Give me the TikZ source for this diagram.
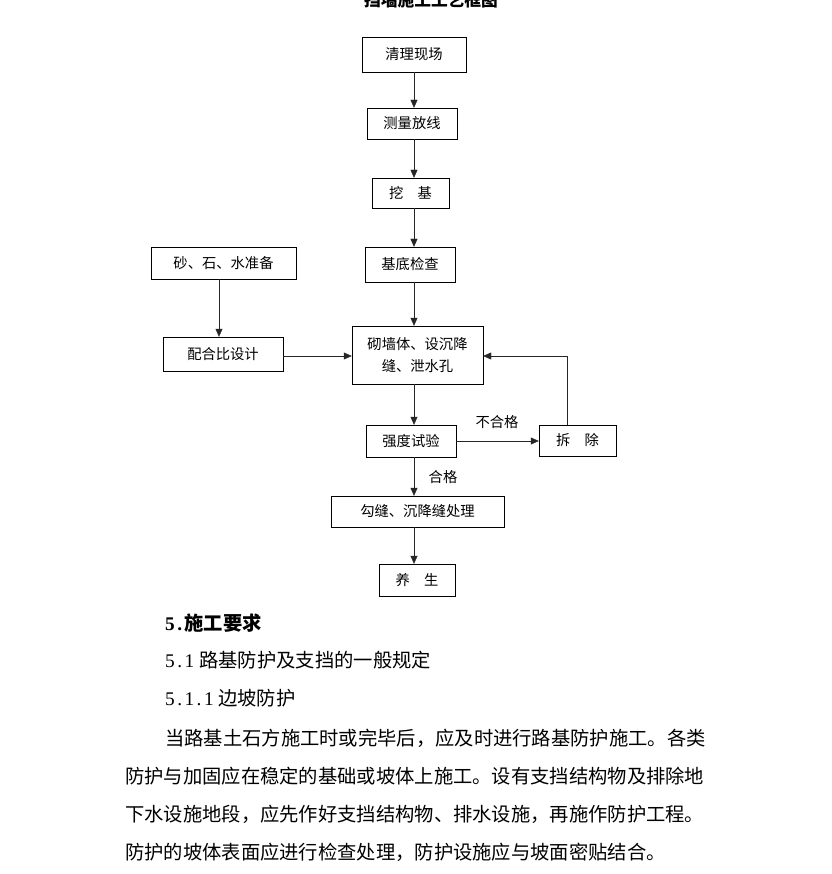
\documentclass[tikz,border=0pt]{standalone}
\usepackage{fontspec}
\setmainfont{Liberation Serif}
\newfontfamily\cjk{Noto Sans CJK SC}
\usetikzlibrary{arrows.meta}
\newcommand\hw[1]{\makebox[9.7pt][c]{#1}}

\begin{document}
\begin{tikzpicture}[
  x=1pt, y=-1pt,
  box/.style={draw, inner sep=0pt, align=center, font=\cjk\fontsize{14.3}{22}\selectfont},
  flow/.style={draw=black!85, -{Triangle[length=8pt,width=7pt]}},
  note/.style={inner sep=0pt, font=\cjk\fontsize{14.3}{17}\selectfont},
  body/.style={anchor=west, inner sep=0pt, font=\fontsize{19.3}{23}\selectfont}
]
\useasboundingbox[fill=white] (0,0) rectangle (831,874);

% title, cut at the top edge
\node[font=\cjk\bfseries\fontsize{16.7}{20}\selectfont] (title) at (431,0) {挡墙施工工艺框图};

% flow chart
\node[box, minimum width=104pt, minimum height=35pt] (qingli) at (414,54.5) {清理现场};
\node[box, minimum width=90pt, minimum height=31pt] (celiang) at (412,123.5) {测量放线};
\node[box, minimum width=77pt, minimum height=30pt] (waji) at (410.5,193) {挖\hspace{1em}基};
\node[box, minimum width=90pt, minimum height=35pt] (jidi) at (410,264.5) {基底检查};
\node[box, minimum width=145pt, minimum height=32pt] (shashi) at (223.5,263) {砂、石、水准备};
\node[box, minimum width=120pt, minimum height=34pt] (peihe) at (223,354) {配合比设计};
\node[box, minimum width=131pt, minimum height=58pt] (qiang) at (417.5,355) {砌墙体、设沉降\\缝、泄水孔};
\node[box, minimum width=90pt, minimum height=32pt] (qiangdu) at (411,441) {强度试验};
\node[box, minimum width=77pt, minimum height=31pt] (chaichu) at (577.5,440.5) {拆\hspace{1em}除};
\node[box, minimum width=173pt, minimum height=31pt] (goufeng) at (417.5,511.5) {勾缝、沉降缝处理};
\node[box, minimum width=76pt, minimum height=32pt] (yang) at (417,580) {养\hspace{1em}生};

\node[note] (buhege) at (497,422) {不合格};
\node[note] (hege) at (443,477) {合格};

\coordinate (mid) at (414,0);
\coordinate (side) at (219,0);
\coordinate (back) at (567,0);
\coordinate (row) at (0,356);

\draw[flow] (qingli.south -| mid) -- (celiang.north -| mid);
\draw[flow] (celiang.south -| mid) -- (waji.north -| mid);
\draw[flow] (waji.south -| mid) -- (jidi.north -| mid);
\draw[flow] (jidi.south -| mid) -- (qiang.north -| mid);
\draw[flow] (shashi.south -| side) -- (peihe.north -| side);
\draw[flow] (peihe.east |- row) -- (qiang.west |- row);
\draw[flow] (qiang.south -| mid) -- (qiangdu.north -| mid);
\draw[flow] (qiangdu.east) -- (chaichu.west |- qiangdu.east);
\draw[flow] (chaichu.north -| back) |- (qiang.east |- row);
\draw[flow] (qiangdu.south -| mid) -- (goufeng.north -| mid);
\draw[flow] (goufeng.south -| mid) -- (yang.north -| mid);

% text below the chart
\node[body, font=\bfseries\fontsize{19.3}{23}\selectfont] (sec) at (165,623) {\hw{5}\hw{.}{\cjk\bfseries 施工要求}};
\node[body] (sub) at (165,660) {\hw{5}\hw{.}\hw{1}\hspace{5pt}{\cjk 路基防护及支挡的一般规定}};
\node[body] (subsub) at (165,698) {\hw{5}\hw{.}\hw{1}\hw{.}\hw{1}\hspace{4.5pt}{\cjk 边坡防护}};
\node[body] (para1) at (165,738) {\cjk 当路基土石方施工时或完毕后，应及时进行路基防护施工。各类};
\node[body] (para2) at (125,776) {\cjk 防护与加固应在稳定的基础或坡体上施工。设有支挡结构物及排除地};
\node[body] (para3) at (125,814) {\cjk 下水设施地段，应先作好支挡结构物、排水设施，再施作防护工程。};
\node[body] (para4) at (125,852) {\cjk 防护的坡体表面应进行检查处理，防护设施应与坡面密贴结合。};
\end{tikzpicture}
\end{document}
